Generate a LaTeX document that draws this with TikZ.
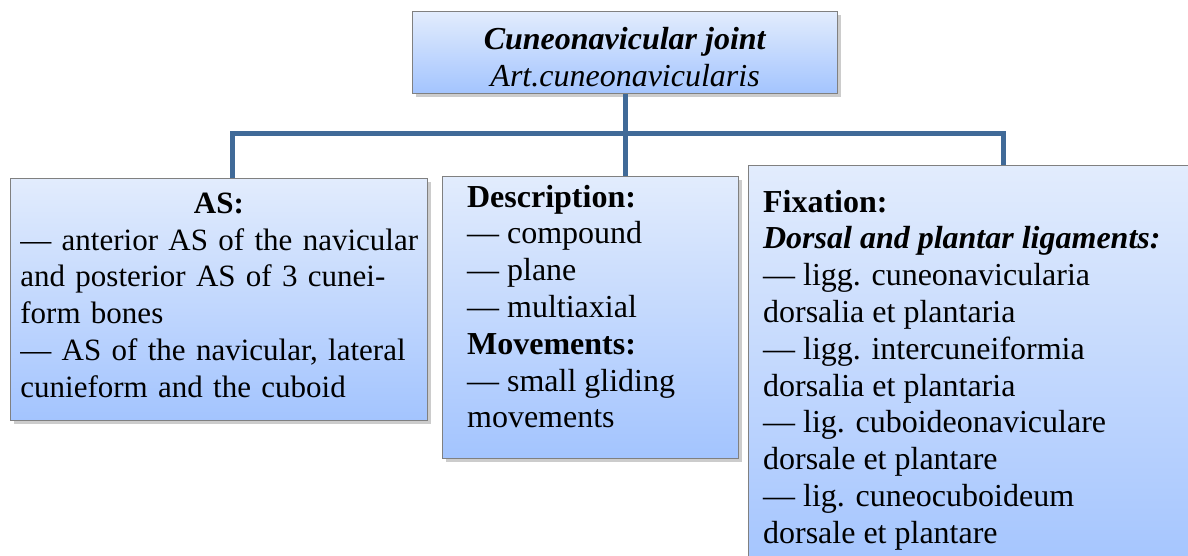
\documentclass[tikz,border=0pt]{standalone}
\usepackage{fontspec}
\setmainfont{Liberation Serif}
\usetikzlibrary{positioning,shadows}

\definecolor{linkblue}{RGB}{64,106,152}
\definecolor{panelline}{RGB}{128,128,128}
\definecolor{paneltop}{RGB}{226,236,253}
\definecolor{panelbottom}{RGB}{163,196,254}

\newlength\aswd
\setlength\aswd{198.5pt}

\tikzset{
  panel/.style={draw=panelline, line width=0.6pt, top color=paneltop, bottom color=panelbottom,
    anchor=north west, inner sep=0pt,
    drop shadow={shadow xshift=1.5pt, shadow yshift=-1.5pt, opacity=0.2, fill=black}},
  body/.style={inner sep=0pt, align=left, font=\fontsize{16}{18.4}\selectfont},
  link/.style={draw=linkblue, line width=2.6pt, line join=miter}
}

\begin{document}
\begin{tikzpicture}[x=0.5pt, y=-0.5pt]
  \useasboundingbox (0,0) rectangle (1188,556);
  \clip (0,0) rectangle (1188,556);

  % boxes
  \node[panel, minimum width=212.5pt, minimum height=41pt] (top) at (412,11) {};
  \node[panel, minimum width=208.5pt, minimum height=121pt] (as) at (10,178) {};
  \node[panel, minimum width=148pt, minimum height=141pt] (desc) at (442,176) {};
  \node[panel, minimum width=254.5pt, minimum height=205pt] (fix) at (748,165) {};

  % tree lines
  \coordinate (bus) at (624.5,133.5);
  \draw[link] (top.south) -- (desc.north -| top.south);
  \draw[link] ([xshift=6.75pt]as.north) |- (bus) -| (fix.north);

  % texts
  \node[body, align=center, below=6.1pt of top.north] (toptxt)
    {\strut\textbf{\textit{Cuneonavicular joint}}\\ \textit{Art.cuneonavicularis}};
  \node[body, font=\fontsize{15.5}{18.4}\selectfont, text width=\aswd,
        below right=4.6pt and 5pt of as.north west] (astxt)
    {\strut\makebox[\aswd]{\textbf{AS:}}\\
     \makebox[\aswd][s]{--- anterior AS of the navicular}\\
     \makebox[\aswd][s]{and posterior AS of 3 cunei-}\\
     form bones\\
     --- AS of the navicular, lateral\\
     cunieform and the cuboid};
  \node[body, below right=2.5pt and 12.35pt of desc.north west] (desctxt)
    {\strut\textbf{Description:}\\
     --- compound\\
     --- plane\\
     --- multiaxial\\
     \textbf{Movements:}\\
     --- small gliding\\
     movements};
  \node[body, below right=10.5pt and 7.35pt of fix.north west] (fixtxt)
    {\strut\textbf{Fixation:}\\
     \textbf{\textit{Dorsal and plantar ligaments:}}\\
     --- ligg. cuneonavicularia\\
     dorsalia et plantaria\\
     --- ligg. intercuneiformia\\
     dorsalia et plantaria\\
     --- lig. cuboideonaviculare\\
     dorsale et plantare\\
     --- lig. cuneocuboideum\\
     dorsale et plantare};
\end{tikzpicture}
\end{document}
